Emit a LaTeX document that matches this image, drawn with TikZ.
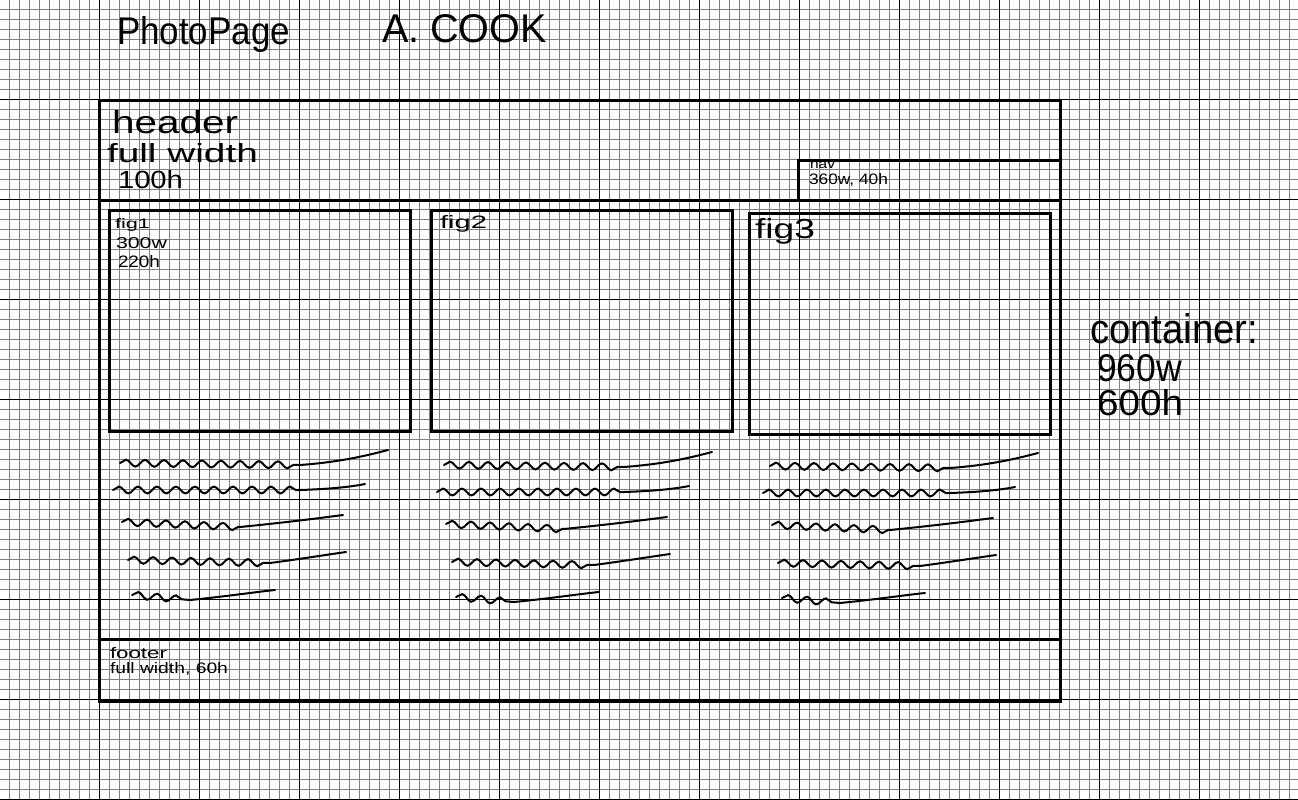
\documentclass[tikz,border=0pt]{standalone}
\usepackage{fontspec}
\usepackage{graphicx}
\setmainfont{Liberation Sans}
\usetikzlibrary{decorations.pathmorphing}
\definecolor{gridgray}{HTML}{808080}
\tikzset{
  minorline/.style={draw=gridgray, line width=1pt},
  majorline/.style={draw=black, line width=1.3pt},
  boxline/.style={draw=black, line width=3pt},
  hand/.style={anchor=base west, inner sep=0pt, outer sep=0pt, text=black},
  squig/.style={draw=black, line width=2pt, line cap=round, decorate,
    decoration={snake, amplitude=3.4pt, segment length=19pt}},
  inkline/.style={draw=black, line width=2pt, line cap=round},
}
\begin{document}
\begin{tikzpicture}[x=1pt, y=-1pt]
\useasboundingbox (0,0) rectangle (1298,800);
\fill[white] (0,0) rectangle (1298,800);
% grid
\foreach \i in {0,...,129} \draw[minorline] ({\i*10+9.3},0) -- ({\i*10+9.3},800);
\foreach \j in {0,...,79} \draw[minorline] (0,{\j*10+9.3}) -- (1298,{\j*10+9.3});
\foreach \i in {0,...,12} \draw[majorline] ({\i*100+99.3},0) -- ({\i*100+99.3},800);
\foreach \j in {0,...,7} \draw[majorline] (0,{\j*100+99.3}) -- (1298,{\j*100+99.3});
% boxes
\draw[boxline] (99,100) rectangle (1060,701);
\draw[boxline] (99,200) -- (1060,200);
\draw[boxline] (99,639) -- (1060,639);
\draw[boxline] (798,160) rectangle (1060,200);
\draw[boxline] (109,210) rectangle (410,431);
\draw[boxline] (431,210) rectangle (732,431);
\draw[boxline] (749,213) rectangle (1050,434);
% titles
\node[hand] (title) at (117,45) {\resizebox{173pt}{28pt}{PhotoPage}};
\node[hand] (author) at (382,43) {\resizebox{165pt}{28pt}{A. COOK}};
% header
\node[hand] (hdr1) at (112,133) {\resizebox{126pt}{23pt}{header}};
\node[hand] (hdr2) at (107,162) {\resizebox{151pt}{19pt}{full width}};
\node[hand] (hdr3) at (118,188) {\resizebox{65pt}{18pt}{100h}};
% nav
\node[hand] (nav1) at (810,168) {\resizebox{25pt}{7pt}{nav}};
\node[hand] (nav2) at (809,184) {\resizebox{79pt}{11pt}{360w, 40h}};
% figures
\node[hand] (f1a) at (115,228) {\resizebox{35pt}{10pt}{fig1}};
\node[hand] (f1b) at (116,248) {\resizebox{51pt}{11pt}{300w}};
\node[hand] (f1c) at (118,267) {\resizebox{42pt}{12pt}{220h}};
\node[hand] (f2a) at (440,228) {\resizebox{47pt}{13pt}{fig2}};
\node[hand] (f3a) at (755,238) {\resizebox{60pt}{20pt}{fig3}};
% container
\node[hand] (c1) at (1090,343) {\resizebox{168pt}{30pt}{container:}};
\node[hand] (c2) at (1097,381) {\resizebox{85pt}{27pt}{960w}};
\node[hand] (c3) at (1097,415) {\resizebox{86pt}{26pt}{600h}};
% footer
\node[hand] (ft1) at (110,658) {\resizebox{57pt}{11pt}{footer}};
\node[hand] (ft2) at (110,673) {\resizebox{118pt}{11pt}{full width, 60h}};
% placeholder text squiggles
\foreach \dx/\dy in {0/0, 324/2, 650/3} {
  \begin{scope}[shift={(\dx,\dy)}]
    \draw[squig] (120,463) -- (300,465);
    \draw[inkline] (300,465) .. controls (340,462) and (365,456) .. (388,450);
    \draw[squig] (113,490) -- (300,490);
    \draw[inkline] (300,490) .. controls (330,489) and (350,487) .. (365,484);
    \draw[squig] (122,522) -- (240,527);
    \draw[inkline] (240,527) .. controls (290,522) and (320,518) .. (343,515);
    \draw[squig] (128,560) -- (270,563);
    \draw[inkline] (270,563) .. controls (300,559) and (325,555) .. (346,552);
    \draw[squig] (132,595) -- (190,600);
    \draw[inkline] (190,600) .. controls (230,596) and (255,592) .. (275,590);
  \end{scope}
}
\end{tikzpicture}
\end{document}
